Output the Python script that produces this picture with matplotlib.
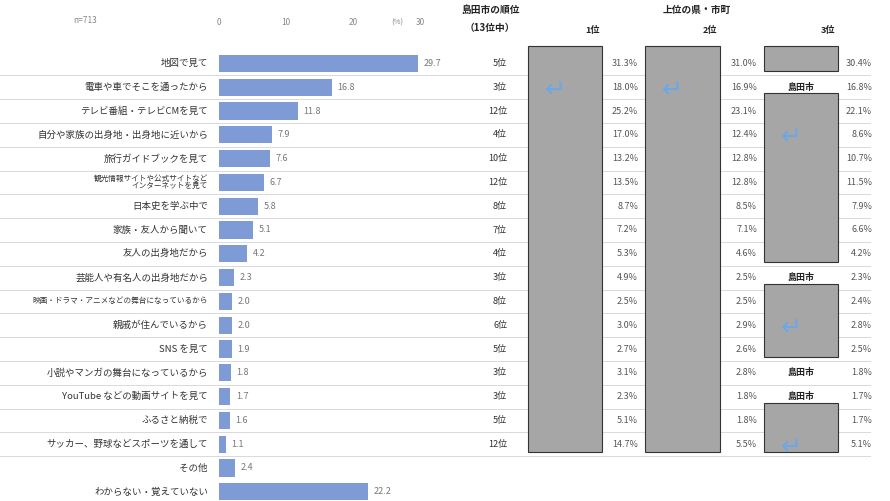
import matplotlib.pyplot as plt
import matplotlib.patches as mpatches

plt.rcParams['font.family'] = ['Noto Sans CJK JP', 'DejaVu Sans']

labels = ['地図で見て', '電車や車でそこを通ったから', 'テレビ番組・テレビCMを見て',
          '自分や家族の出身地・出身地に近いから', '旅行ガイドブックを見て',
          '観光情報サイトや公式サイトなど\nインターネットを見て', '日本史を学ぶ中で',
          '家族・友人から聞いて', '友人の出身地だから', '芸能人や有名人の出身地だから',
          '映画・ドラマ・アニメなどの舞台になっているから', '親戚が住んでいるから',
          'SNS を見て', '小説やマンガの舞台になっているから',
          'YouTube などの動画サイトを見て', 'ふるさと納税で',
          'サッカー、野球などスポーツを通して', 'その他', 'わからない・覚えていない']
values = [29.7, 16.8, 11.8, 7.9, 7.6, 6.7, 5.8, 5.1, 4.2, 2.3, 2.0, 2.0, 1.9, 1.8,
          1.7, 1.6, 1.1, 2.4, 22.2]
ranks = ['5位', '3位', '12位', '4位', '10位', '12位', '8位', '7位', '4位', '3位',
         '8位', '6位', '5位', '3位', '3位', '5位', '12位']
top1 = [31.3, 18.0, 25.2, 17.0, 13.2, 13.5, 8.7, 7.2, 5.3, 4.9, 2.5, 3.0, 2.7, 3.1, 2.3, 5.1, 14.7]
top2 = [31.0, 16.9, 23.1, 12.4, 12.8, 12.8, 8.5, 7.1, 4.6, 2.5, 2.5, 2.9, 2.6, 2.8, 1.8, 1.8, 5.5]
top3 = [30.4, 16.8, 22.1, 8.6, 10.7, 11.5, 7.9, 6.6, 4.2, 2.3, 2.4, 2.8, 2.5, 1.8, 1.7, 1.7, 5.1]
# rows where Shimada itself is the 3rd-ranked place
shimada3 = [1, 9, 13, 14]

W, H = 890, 501
fig = plt.figure(figsize=(W / 100, H / 100), dpi=100)

# overlay axes in pixel coords
ov = fig.add_axes([0, 0, 1, 1])
ov.set_xlim(0, W)
ov.set_ylim(H, 0)
ov.axis('off')

row0, step = 51.5, 23.8
n = len(labels)

def ycen(i):
    return row0 + step * (i + 0.5)

# bar axes
x0, x1 = 219, 420
bx = fig.add_axes([x0 / W, 1 - (row0 + step * n) / H, (x1 - x0) / W, step * n / H])
bx.set_xlim(0, 30)
bx.set_ylim(n - 0.5, -0.5)
bx.barh(range(n), values, height=0.72, color='#7f9bd6')
bx.axis('off')
for i, v in enumerate(values):
    bx.text(v + 0.8, i, f'{v:.1f}', va='center', fontsize=6.5, color='#777777')
for t in [0, 10, 20, 30]:
    ov.text(x0 + t * (x1 - x0) / 30, 25, str(t), ha='center', fontsize=6, color='#888888')
ov.text(397, 25, '(%)', ha='center', fontsize=5.5, color='#888888')
ov.text(85, 23, 'n=713', ha='center', fontsize=6, color='#888888')

for i, lab in enumerate(labels):
    fs = 5.5 if ('\n' in lab or len(lab) > 20) else 6.8
    ov.text(208, ycen(i), lab, ha='right', va='center', fontsize=fs, color='#333333',
            linespacing=1.0)
    if i < 17:
        yb = row0 + step * (i + 1)
        ov.plot([0, 870], [yb, yb], color='#d8d8e0', lw=0.7, zorder=1)

# rank column
ov.text(490, 13, '島田市の順位', ha='center', fontsize=7, fontweight='bold', color='#222222')
ov.text(490, 31, '（13位中）', ha='center', fontsize=7, fontweight='bold', color='#222222')
for i, r in enumerate(ranks):
    ov.text(507, ycen(i), r, ha='right', va='center', fontsize=6.5, color='#333333')

ov.text(697, 13, '上位の県・市町', ha='center', fontsize=7, fontweight='bold', color='#222222')
cols = [(528, 602, 638, top1, '1位'), (645, 720, 757, top2, '2位'),
        (764, 838, 872, top3, '3位')]
for xa, xb, xt, vals, head in cols:
    ov.text(xb - 10, 33, head, ha='center', fontsize=6.5, fontweight='bold', color='#222222')
    for i, v in enumerate(vals):
        ov.text(xt, ycen(i), f'{v:.1f}%', ha='right', va='center', fontsize=6.5,
                color='#555555')

def box(xa, xb, i0, i1, arrow=True):
    y_top = row0 + step * i0 - 6
    y_bot = row0 + step * (i1 + 1) - 4
    ov.add_patch(mpatches.Rectangle((xa, y_top), xb - xa, y_bot - y_top,
                                    facecolor='#a6a6a6', edgecolor='#333333', lw=0.8,
                                    zorder=3))
    if arrow:
        ov.text(xa + 27, y_top + 45, '↵', ha='center', va='center', fontsize=18,
                color='#6aa8e8', family=['DejaVu Sans'], zorder=4)

box(528, 602, 0, 16)
box(645, 720, 0, 16)
# 3rd column: boxes broken by Shimada rows
segs = [(0, 0), (2, 8), (10, 12), (15, 16)]
for a, b in segs:
    box(764, 838, a, b, arrow=(b > a))
for i in shimada3:
    ov.text(801, ycen(i), '島田市', ha='center', va='center', fontsize=6.5,
            fontweight='bold', color='#222222')

fig.savefig('out.png', dpi=100)
